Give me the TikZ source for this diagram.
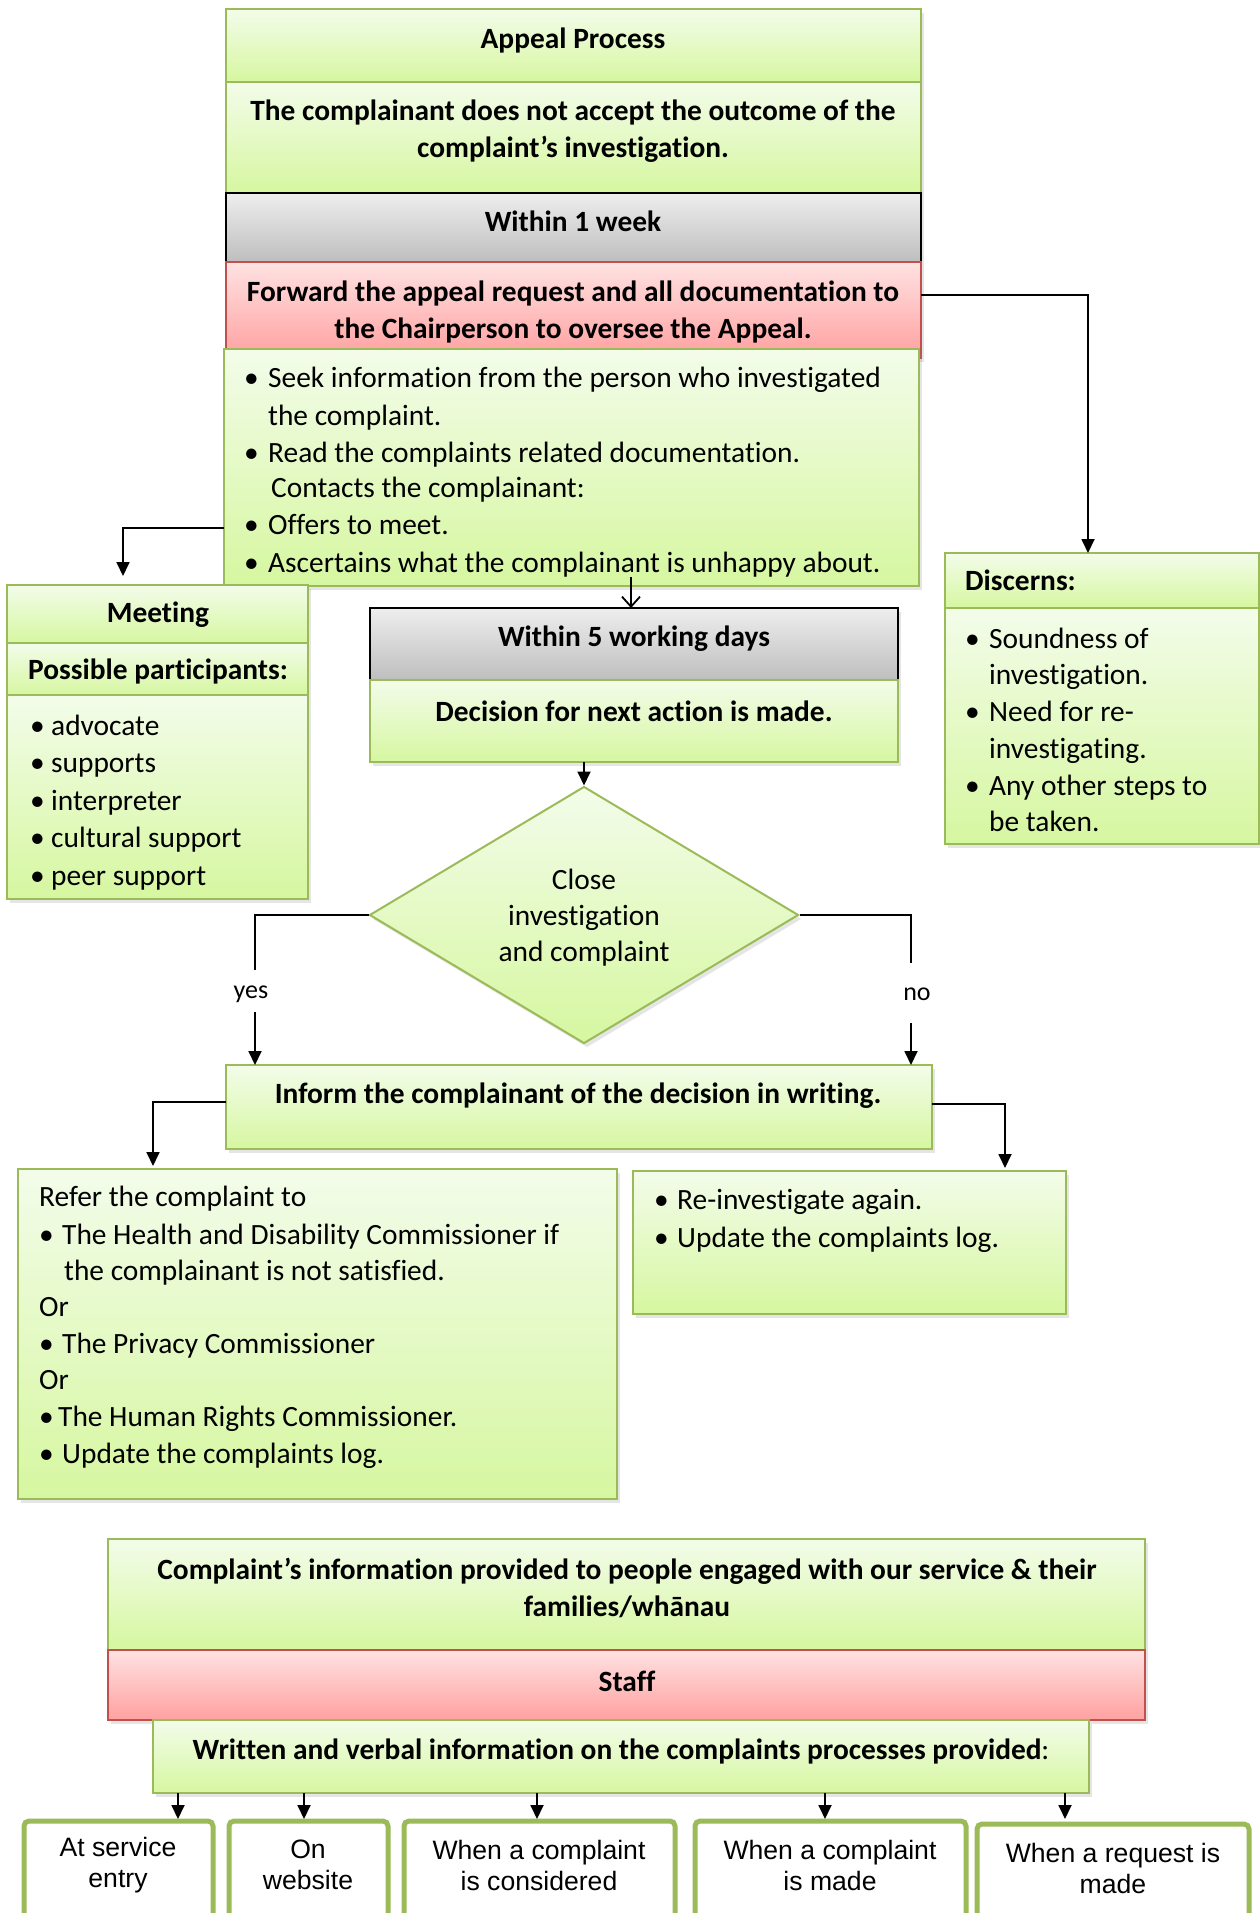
\documentclass[tikz,border=0pt]{standalone}
\usepackage{fontspec}
\setmainfont{Carlito}[Ligatures=NoCommon]
\newfontfamily\arialf{Liberation Sans}
\usetikzlibrary{shapes.geometric,arrows.meta,shadows}
\definecolor{gtop}{RGB}{243,252,234}
\definecolor{gbot}{RGB}{214,247,160}
\definecolor{grn}{RGB}{155,187,89}
\definecolor{graytop}{RGB}{238,238,238}
\definecolor{graybot}{RGB}{190,190,190}
\definecolor{redtop}{RGB}{255,226,226}
\definecolor{redbot}{RGB}{255,160,160}
\definecolor{redb}{RGB}{192,80,77}
\newcommand\bul[1]{\makebox[#1pt][l]{•}}
\newcommand\bx[6]{\node[#1, minimum width={(#5)-(#3)}, minimum height={(#6)-(#4)}] (#2) at (#3,#4) {};}
\tikzset{
  box/.style={inner sep=0pt, outer sep=0pt, anchor=north west},
  shd/.style={drop shadow={opacity=0.2, shadow xshift=3pt, shadow yshift=-4pt}},
  gbox/.style={box, draw=grn, line width=2.2pt, top color=gtop, bottom color=gbot, shd},
  graybox/.style={box, draw=black, line width=1.6pt, top color=graytop, bottom color=graybot, shd},
  redbox/.style={box, draw=redb, line width=2.2pt, top color=redtop, bottom color=redbot, shd},
  wbox/.style={box, draw=grn, line width=5pt, rounded corners=5pt, fill=white},
  t/.style={inner sep=0pt, font=\fontsize{29.4}{37}\selectfont},
  tb/.style={inner sep=0pt, font=\fontsize{29.4}{37}\selectfont\bfseries, align=center},
  lt/.style={t, anchor=west, text height=21pt, text depth=6pt},
  lb/.style={lt, font=\fontsize{29.4}{37}\selectfont\bfseries},
  bt/.style={inner sep=0pt, font=\arialf\fontsize{26.6}{31}\selectfont, align=center},
  yn/.style={inner sep=0pt, font=\fontsize{26}{30}\selectfont},
  ln/.style={line width=1.8pt},
  conn/.style={ln, -{Triangle[length=14pt,width=13pt]}},
}
\begin{document}
\begin{tikzpicture}[x=1pt,y=-1pt]
\useasboundingbox (0,0) rectangle (1260,1913);
\clip (0,0) rectangle (1260,1913);
\fill[white] (0,0) rectangle (1260,1913);

% ---- top column
\bx{gbox}{A}{226}{9}{921}{82}
\bx{gbox}{B}{226}{82}{921}{193}
\bx{graybox}{C}{226}{193}{921}{262}
\bx{redbox}{D}{226}{262}{921}{358}
\bx{gbox}{E}{224}{349}{919}{586}
\node[tb] (At) at (573,40) {Appeal Process};
\node[tb] (Bt) at (573,131) {The complainant does not accept the outcome of the\\complaint’s investigation.};
\node[tb] (Ct) at (573,221) {Within 1 week};
\node[tb] (Dt) at (573,312) {Forward the appeal request and all documentation to\\the Chairperson to oversee the Appeal.};
\node[lt] (e1) at (244,380) {\bul{24}Seek information from the person who investigated};
\node[lt] (e2) at (268,418) {the complaint.};
\node[lt] (e3) at (244,455) {\bul{24}Read the complaints related documentation.};
\node[lt] (e4) at (271,490) {Contacts the complainant:};
\node[lt] (e5) at (244,527) {\bul{24}Offers to meet.};
\node[lt] (e6) at (244,565) {\bul{24}Ascertains what the complainant is unhappy about.};

% ---- meeting
\bx{gbox}{F1}{7}{585}{308}{643}
\bx{gbox}{F2}{7}{643}{308}{695}
\bx{gbox}{F3}{7}{695}{308}{899}
\node[tb] (F1t) at (158,615) {Meeting};
\node[lb] (F2t) at (28,672) {Possible participants:};
\node[lt] (f1) at (30,728) {\bul{21}advocate};
\node[lt] (f2) at (30,765) {\bul{21}supports};
\node[lt] (f3) at (30,803) {\bul{21}interpreter};
\node[lt] (f4) at (30,840) {\bul{21}cultural support};
\node[lt] (f5) at (30,878) {\bul{21}peer support};

% ---- within 5 / decision
\bx{graybox}{G}{370}{608}{898}{680}
\bx{gbox}{H}{370}{680}{898}{762}
\node[tb] (Gt) at (634,639) {Within 5 working days};
\node[tb] (Ht) at (634,711) {Decision for next action is made.};

% ---- discerns
\bx{gbox}{I1}{945}{553}{1259}{608}
\bx{gbox}{I2}{945}{608}{1259}{844}
\node[lb] (I1t) at (965,583) {Discerns:};
\node[lt] (i1) at (965,641) {\bul{24}Soundness of};
\node[lt] (i2) at (989,677) {investigation.};
\node[lt] (i3) at (965,714) {\bul{24}Need for re-};
\node[lt] (i4) at (989,751) {investigating.};
\node[lt] (i5) at (965,788) {\bul{24}Any other steps to};
\node[lt] (i6) at (989,824) {be taken.};

% ---- diamond
\node[diamond, draw=grn, line width=2pt, top color=gtop, bottom color=gbot, inner sep=0pt,
      minimum width=429pt, minimum height=257pt, shd] (J) at (584,915) {};
\node[t, align=center, font=\fontsize{29.4}{36}\selectfont] (Jt) at (584,918) {Close\\investigation\\and complaint};

% ---- inform
\bx{gbox}{K}{226}{1065}{932}{1149}
\node[tb] (Kt) at (578,1096) {Inform the complainant of the decision in writing.};

% ---- refer
\bx{gbox}{L}{18}{1169}{617}{1499}
\node[lt] (l1) at (39,1199) {Refer the complaint to};
\node[lt] (l2) at (39,1237) {\bul{23}The Health and Disability Commissioner if};
\node[lt] (l3) at (64,1273) {the complainant is not satisfied.};
\node[lt] (l4) at (39,1309) {Or};
\node[lt] (l5) at (39,1346) {\bul{23}The Privacy Commissioner};
\node[lt] (l6) at (39,1382) {Or};
\node[lt] (l7) at (39,1419) {\bul{19}The Human Rights Commissioner.};
\node[lt] (l8) at (39,1456) {\bul{23}Update the complaints log.};

% ---- re-investigate
\bx{gbox}{M}{633}{1171}{1066}{1314}
\node[lt] (m1) at (654,1202) {\bul{23}Re-investigate again.};
\node[lt] (m2) at (654,1240) {\bul{23}Update the complaints log.};

% ---- information section
\bx{gbox}{N}{108}{1539}{1145}{1650}
\bx{redbox}{O}{108}{1650}{1145}{1720}
\bx{gbox}{P}{153}{1720}{1089}{1793}
\node[tb] (Nt) at (627,1588) {Complaint’s information provided to people engaged with our service \& their\\families/whānau};
\node[tb] (Ot) at (627,1681) {Staff};
\node[t] (Pt) at (621,1751) {\bfseries Written and verbal information on the complaints processes provided\mdseries:};

\bx{wbox}{Q1}{24}{1821}{213}{1960}
\bx{wbox}{Q2}{229}{1821}{388}{1960}
\bx{wbox}{Q3}{404}{1821}{675}{1960}
\bx{wbox}{Q4}{695}{1821}{966}{1960}
\bx{wbox}{Q5}{977}{1824}{1249}{1960}
\node[bt] (Q1t) at (118,1865) {At service\\entry};
\node[bt] (Q2t) at (308,1865) {On\\website};
\node[bt] (Q3t) at (539,1865) {When a complaint\\is considered};
\node[bt] (Q4t) at (830,1865) {When a complaint\\is made};
\node[bt] (Q5t) at (1113,1868) {When a request is\\made};

% ---- connectors
\coordinate (c1) at (1088,553);
\draw[conn] ([yshift=15pt]D.east) -| (c1);
\coordinate (c2) at (123,576);
\draw[conn] ([yshift=-60.5pt]E.west) -| (c2);
\coordinate (c3) at (631,577);
\draw[ln, -{Straight Barb[length=10pt,width=18pt]}] (c3) -- (c3 |- G.north);
\draw[conn] (H.south -| J.north) -- (J.north);

\coordinate (c4) at (255,970);
\draw[ln] (J.west) -| (c4);
\node[yn] (yes) at (251,994) {yes};
\coordinate (c5) at (255,1012);
\draw[conn] (c5) -- (c5 |- K.north);

\coordinate (c6) at (911,963);
\draw[ln] (J.east) -| (c6);
\node[yn] (no) at (917,994) {no};
\coordinate (c7) at (911,1023);
\draw[conn] (c7) -- (c7 |- K.north);

\coordinate (c8) at (153,1166);
\draw[conn] ([yshift=5pt]K.west) -| (c8);
\coordinate (c9) at (1005,1168);
\draw[conn] ([yshift=3pt]K.east) -| (c9);

\foreach \xx/\q in {178/Q1,304/Q2,537/Q3,825/Q4,1065/Q5}{
  \coordinate (d\q) at (\xx,1819);
  \draw[conn] (P.south -| d\q) -- (d\q);
}
\end{tikzpicture}
\end{document}
